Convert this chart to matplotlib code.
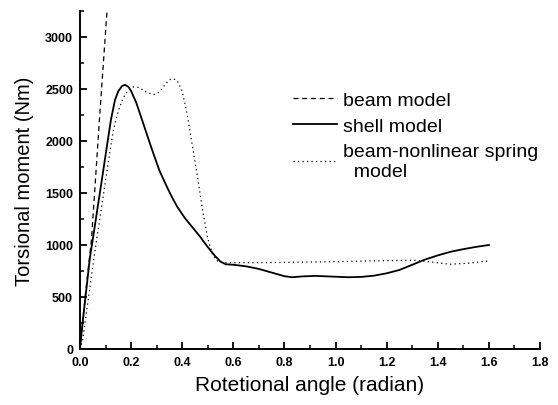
import matplotlib
matplotlib.use("Agg")
import matplotlib.pyplot as plt
from matplotlib.ticker import MultipleLocator

plt.rcParams['font.family'] = ['Liberation Sans', 'DejaVu Sans']

# Data
beam_x = [0.0, 0.02, 0.045, 0.076, 0.106]
beam_y = [0, 500, 1054, 2204, 3260]

shell_x = [0.0, 0.01, 0.039, 0.05, 0.082, 0.121, 0.137, 0.15, 0.165, 0.176,
           0.19, 0.20, 0.22, 0.25, 0.28, 0.31, 0.34, 0.36, 0.38, 0.41,
           0.44, 0.47, 0.50, 0.53, 0.55, 0.57, 0.60, 0.65, 0.70, 0.75,
           0.80, 0.83, 0.87, 0.92, 0.98, 1.05, 1.10, 1.15, 1.20, 1.25,
           1.30, 1.35, 1.40, 1.45, 1.50, 1.55, 1.60]
shell_y = [0, 250, 882, 1054, 1570, 2204, 2396, 2480, 2530, 2540,
           2520, 2480, 2370, 2150, 1930, 1720, 1560, 1460, 1370, 1260,
           1170, 1080, 980, 890, 840, 815, 810, 795, 770, 735,
           700, 690, 698, 703, 697, 690, 693, 705, 728, 760,
           810, 860, 900, 935, 960, 982, 1000]

spring_x = [0.0, 0.01, 0.056, 0.111, 0.13, 0.15, 0.17, 0.19, 0.209, 0.23,
            0.26, 0.287, 0.31, 0.335, 0.355, 0.365, 0.38, 0.40, 0.42, 0.44,
            0.46, 0.48, 0.50, 0.52, 0.54, 0.56, 0.60, 0.744, 1.0, 1.2,
            1.317, 1.38, 1.448, 1.52, 1.6]
spring_y = [0, 80, 900, 1800, 2100, 2290, 2420, 2490, 2520, 2515,
            2470, 2445, 2470, 2550, 2595, 2600, 2580, 2480, 2250, 1950,
            1650, 1330, 1060, 900, 840, 830, 830, 831, 840, 850,
            853, 835, 815, 825, 847]

x_ticks = [0.0, 0.2, 0.4, 0.6, 0.8, 1.0, 1.2, 1.4, 1.6, 1.8]
y_ticks = [0, 500, 1000, 1500, 2000, 2500, 3000]

fig = plt.figure(figsize=(5.58, 4.06), dpi=100)
ax = fig.add_axes([80/558, 1-350/406, (540-80)/558, (350-12)/406])

ax.plot(beam_x, beam_y, color='black', lw=0.9, ls=(0, (4, 3)), label='beam model')
ax.plot(shell_x, shell_y, color='black', lw=1.3, ls='-', label='shell model')
ax.plot(spring_x, spring_y, color='black', lw=0.9, ls=(0, (1, 2.6)),
        label='beam-nonlinear spring\n  model')

ax.set_xlim(0, 1.8)
ax.set_ylim(0, 3250)
ax.set_xticks(x_ticks)
ax.set_xticklabels([f"{v:.1f}" for v in x_ticks])
ax.set_yticks(y_ticks)
ax.set_yticklabels([str(v) for v in y_ticks])
ax.xaxis.set_minor_locator(MultipleLocator(0.1))
ax.yaxis.set_minor_locator(MultipleLocator(250))

for s in ['top', 'right']:
    ax.spines[s].set_visible(False)
for s in ['left', 'bottom']:
    ax.spines[s].set_linewidth(1.4)

ax.tick_params(which='major', direction='in', length=5, width=1.3, pad=5,
               labelsize=9)
ax.tick_params(which='minor', direction='in', length=3, width=1.1)
for lab in ax.get_xticklabels() + ax.get_yticklabels():
    lab.set_fontweight('bold')

ax.set_xlabel('Rotetional angle (radian)', fontsize=15, labelpad=5)
ax.set_ylabel('Torsional moment (Nm)', fontsize=14.5, labelpad=8)

leg = ax.legend(loc='upper left', bbox_to_anchor=(0.462, 0.763), frameon=False,
                fontsize=14, handlelength=2.3, handletextpad=0.3,
                labelspacing=0.43, borderpad=0, borderaxespad=0)

fig.savefig('out.png', dpi=100)
